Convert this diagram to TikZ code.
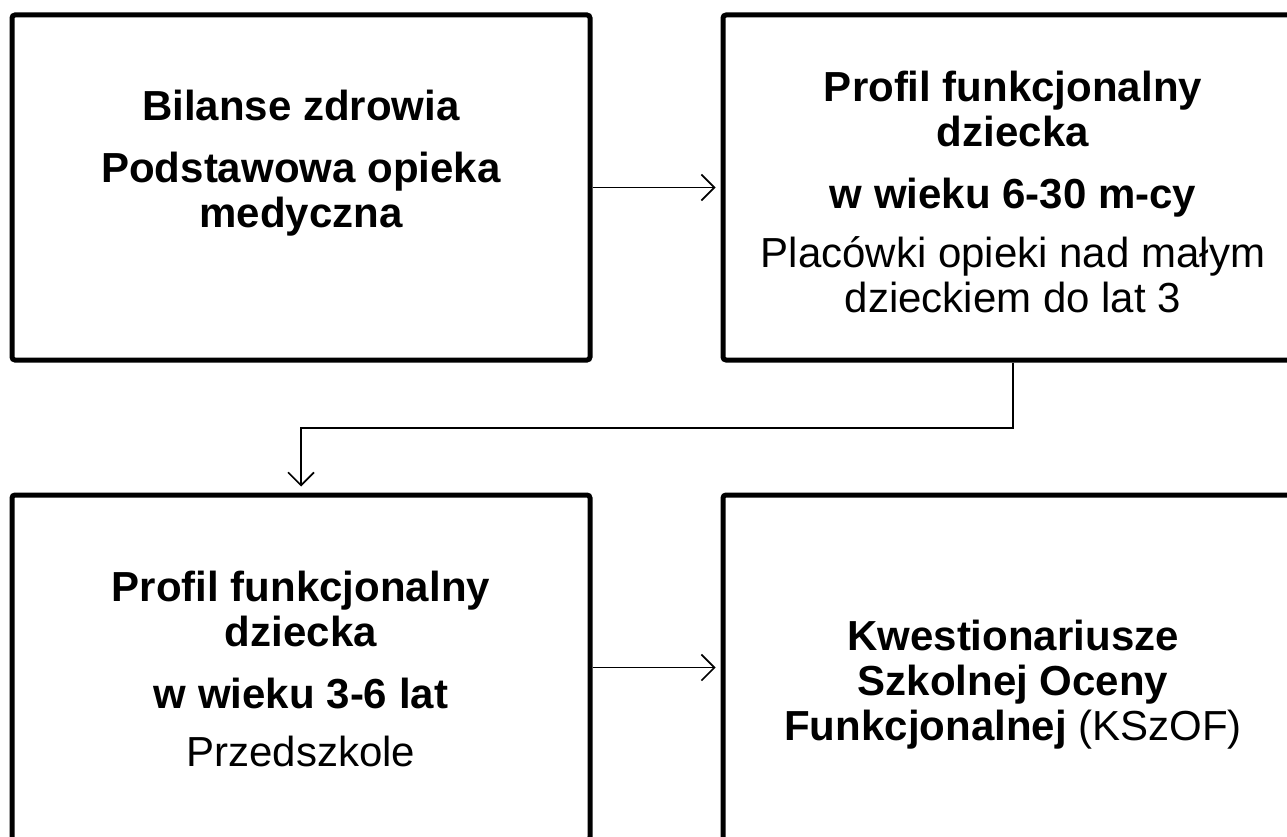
\documentclass[tikz,border=0pt]{standalone}
\usepackage{fontspec}
\setmainfont{Liberation Sans}
\usetikzlibrary{arrows.meta}
\begin{document}
\begin{tikzpicture}[x=1pt,y=-1pt,
  box/.style={draw=black, line width=5pt, rounded corners=3pt, minimum width=578pt, minimum height=345pt, inner sep=0pt},
  txt/.style={align=center, font=\fontsize{42}{45}\selectfont, inner sep=0pt},
  conn/.style={line width=1.6pt, -{Straight Barb[length=13pt,width=26pt,line width=1.6pt]}, shorten >=5pt}]
\useasboundingbox (0,0) rectangle (1287,837);
\clip (0,0) rectangle (1287,837);
\node[box] (b1) at (301,187.5) {};
\node[box, minimum width=580pt] (b2) at (1013,187.5) {};
\node[box] (b3) at (301,667.5) {};
\node[box, minimum width=580pt] (b4) at (1013,667.5) {};
\node[txt] (t1) at (301,163) {\textbf{Bilanse zdrowia}\\[17pt]\textbf{Podstawowa opieka}\\\textbf{medyczna}};
\node[txt] (t2) at (1013,192) {\textbf{Profil funkcjonalny}\\\textbf{dziecka}\\[17pt]\textbf{w wieku 6-30 m-cy}\\[14pt]Placówki opieki nad małym\\dzieckiem do lat 3};
\node[txt] (t3) at (301,669) {\textbf{Profil funkcjonalny}\\\textbf{dziecka}\\[17pt]\textbf{w wieku 3-6 lat}\\[13pt]Przedszkole};
\node[txt] (t4) at (1013,685) {\textbf{Kwestionariusze}\\\textbf{Szkolnej Oceny}\\\textbf{Funkcjonalnej} (KSzOF)};
\coordinate (m) at (0,428);
\draw[conn] (b1.east) -- (b2.west);
\draw[conn] (b4.west -| b3.east) -- (b4.west);
\draw[conn, shorten >=6pt] (b2.south) -- (b2.south |- m) -- (b3.north |- m) -- (b3.north);
\end{tikzpicture}
\end{document}
